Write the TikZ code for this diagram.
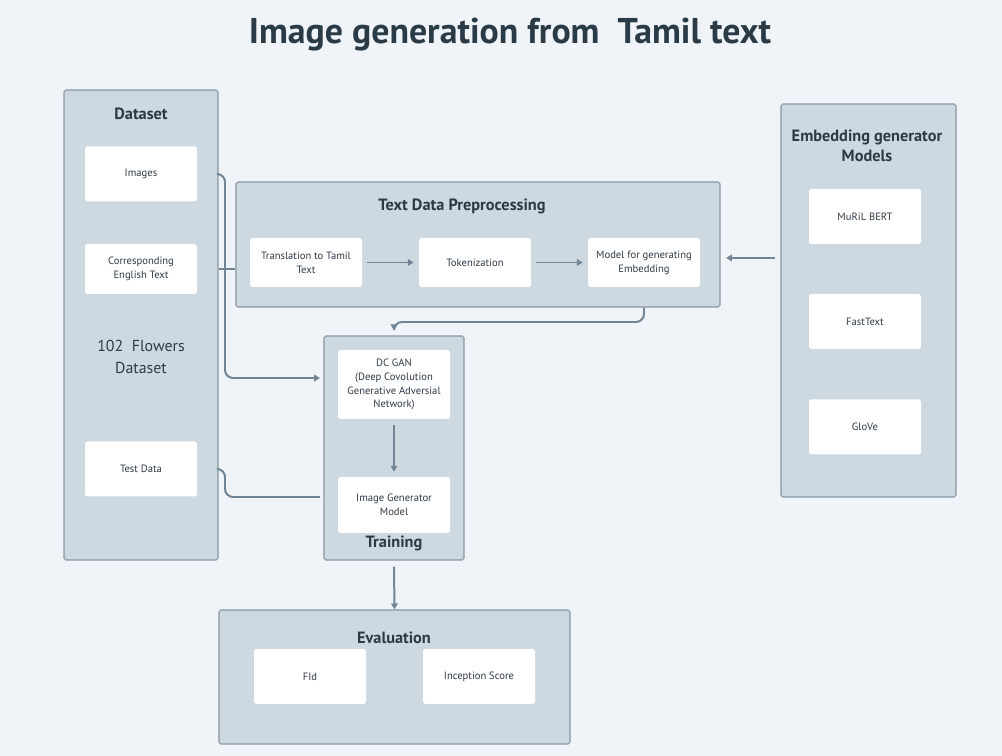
\documentclass[tikz,border=0pt]{standalone}
\usepackage{fontspec}
\setmainfont{PT Sans}
\usetikzlibrary{arrows.meta,calc}

\definecolor{pagebg}{HTML}{F0F4F8}
\definecolor{panelfill}{HTML}{CED8E0}
\definecolor{paneledge}{HTML}{8797A5}
\definecolor{linkcol}{HTML}{718596}
\definecolor{inkdark}{HTML}{2B3A47}
\definecolor{inkbox}{HTML}{2F3B46}

\newcommand\pxu{0.0265cm}

\tikzset{
 panel/.style={draw=paneledge, fill=panelfill, line width=0.8pt, rounded corners=1.5pt},
 panelhead/.style={text=inkdark, font=\fontsize{12.3}{15}\selectfont\bfseries, align=center},
 stepbox/.style={fill=white, rounded corners=1.5pt, text=inkbox, align=center,
   minimum width=112*\pxu, inner sep=0pt, font=\fontsize{8}{10.5}\selectfont},
 link/.style={draw=linkcol, line width=1.5pt, rounded corners=8*\pxu},
 tip/.style={-{Triangle[length=4.5pt,width=5pt]}}
}

\begin{document}
\begin{tikzpicture}[x=\pxu, y=-\pxu]
 \fill[pagebg] (0,0) rectangle (1002,756);
 \useasboundingbox (0,0) rectangle (1002,756);

 % title
 \node[text=inkdark, font=\fontsize{27}{32}\selectfont\bfseries] (title) at (510,35) {Image generation from~~Tamil text};

 % panels
 \node[panel, minimum width=154*\pxu, minimum height=470*\pxu] (dataset) at (141,325) {};
 \node[panel, minimum width=484*\pxu, minimum height=125*\pxu] (textprep) at (478,244.5) {};
 \node[panel, minimum width=175*\pxu, minimum height=393*\pxu] (embed) at (868.5,300.5) {};
 \node[panel, minimum width=140*\pxu, minimum height=224*\pxu] (training) at (394,448) {};
 \node[panel, minimum width=351*\pxu, minimum height=134*\pxu] (evaluation) at (394.5,677) {};

 \node[panelhead] (datasethead) at (141,114) {Dataset};
 \node[panelhead] (textprephead) at (462,206) {Text Data Preprocessing};
 \node[panelhead] (embedhead) at (867,146) {Embedding generator\\Models};
 \node[panelhead] (traininghead) at (394,543) {Training};
 \node[panelhead] (evaluationhead) at (394,638) {Evaluation};

 % dataset
 \node[stepbox, minimum height=55*\pxu] (images) at (141,174) {Images};
 \node[stepbox, minimum height=50*\pxu] (english) at (141,269) {Corresponding\\English Text};
 \node[text=inkbox, align=center, font=\fontsize{12}{16}\selectfont] (flowers) at (141,357) {102~~Flowers\\Dataset};
 \node[stepbox, minimum height=55*\pxu] (testdata) at (141,469) {Test Data};

 % preprocessing
 \node[stepbox, minimum height=49*\pxu] (translate) at (306,262.5) {Translation to Tamil\\Text};
 \node[stepbox, minimum height=49*\pxu] (tokenize) at (475,262.5) {Tokenization};
 \node[stepbox, minimum height=49*\pxu] (modelemb) at (644,262.5) {Model for generating\\Embedding};

 % embedding models
 \node[stepbox, minimum height=55*\pxu] (muril) at (865,216.5) {MuRiL BERT};
 \node[stepbox, minimum height=55*\pxu] (fasttext) at (865,321.5) {FastText};
 \node[stepbox, minimum height=55*\pxu] (glove) at (865,427) {GloVe};

 % training
 \node[stepbox, minimum height=69*\pxu] (gan) at (394,384.5) {DC GAN\\(Deep Covolution\\Generative Adversial\\Network)};
 \node[stepbox, minimum height=56*\pxu] (imggen) at (394,505) {Image Generator\\Model};

 % evaluation
 \node[stepbox, minimum height=55*\pxu] (fid) at (310,676.5) {FId};
 \node[stepbox, minimum height=55*\pxu] (inception) at (479,676.5) {Inception Score};

 % connectors
 \coordinate (ganin) at (320,378);
 \coordinate (testin) at (320,497);
 \coordinate (embout) at (775,258);
 \coordinate (embin) at (726,258);

 \draw[link, tip] (dataset.east |- images) -- (225,174) -- (225,378) -- (ganin);
 \draw[link] (dataset.east |- english) -- (textprep.west |- english);
 \draw[link] (dataset.east |- testdata) -- (225,469) -- (225,497) -- (testin);
 \draw[link, tip] ($(translate.east)+(5,0)$) -- ($(tokenize.west)+(-5,0)$);
 \draw[link, tip] ($(tokenize.east)+(5,0)$) -- ($(modelemb.west)+(-5,0)$);
 \draw[link, tip] (embout) -- (embin);
 \draw[link, tip] (modelemb |- textprep.south) -- (644,322) -- (394,322) -- ($(training.north)+(0,-5)$);
 \draw[link, tip] ($(gan.south)+(0,6)$) -- ($(imggen.north)+(0,-5)$);
 \draw[link, tip] ($(training.south)+(0,6)$) -- (evaluation.north);
\end{tikzpicture}
\end{document}
